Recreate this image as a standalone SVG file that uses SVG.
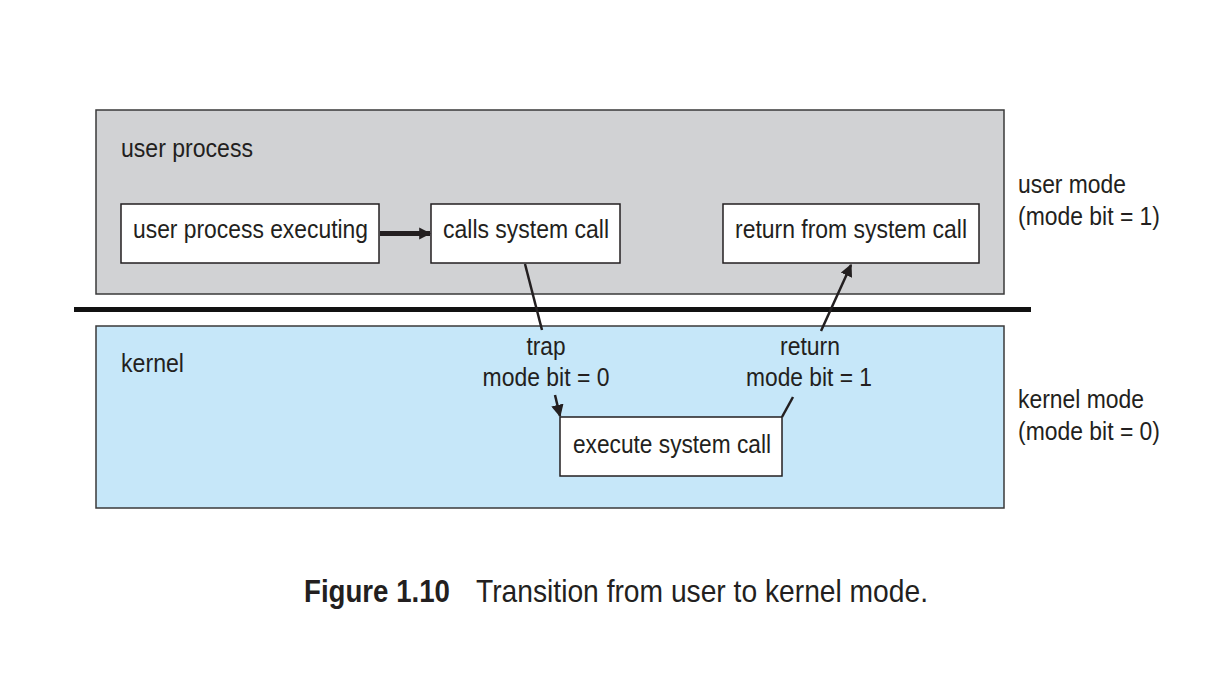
<svg xmlns="http://www.w3.org/2000/svg" width="1213" height="688" viewBox="0 0 1213 688">
<defs>
<style>
text{font-family:"Liberation Sans",Arial,sans-serif;fill:#231f20;font-size:25px}
.box{fill:#ffffff;stroke:#231f20;stroke-width:1.5}
.line{stroke:#231f20;stroke-width:2.5;fill:none}
.cap{font-size:32px}
</style>
<marker id="ah" viewBox="0 0 10 10" refX="9" refY="5" markerWidth="5" markerHeight="5" orient="auto" markerUnits="strokeWidth"><path d="M0,0 L10,5 L0,10 z" fill="#231f20"/></marker>
<marker id="ahBig" viewBox="0 0 10 10" refX="9" refY="5" markerWidth="2.4" markerHeight="2.6" orient="auto" markerUnits="strokeWidth"><path d="M0,0 L10,5 L0,10 z" fill="#231f20"/></marker>
</defs>
<rect width="1213" height="688" fill="#ffffff"/>
<g id="user-region">
<rect x="96" y="110" width="908" height="184" fill="#d1d2d4" stroke="#3a3a3a" stroke-width="1.5"/>
<text x="121" y="157" textLength="132" lengthAdjust="spacingAndGlyphs">user process</text>
</g>
<g id="kernel-region">
<rect x="96" y="326" width="908" height="182" fill="#c6e7f9" stroke="#3a3a3a" stroke-width="1.5"/>
<text x="121" y="372" textLength="63" lengthAdjust="spacingAndGlyphs">kernel</text>
</g>
<g id="divider"><line x1="74" y1="309.5" x2="1031" y2="309.5" stroke="#111" stroke-width="5"/></g>
<g id="n-exec">
<rect class="box" x="121" y="204" width="258" height="59"/>
<text x="133" y="238" textLength="235" lengthAdjust="spacingAndGlyphs">user process executing</text>
</g>
<g id="n-calls">
<rect class="box" x="431" y="204" width="189" height="59"/>
<text x="443" y="238" textLength="166" lengthAdjust="spacingAndGlyphs">calls system call</text>
</g>
<g id="n-return">
<rect class="box" x="723" y="204" width="256" height="59"/>
<text x="735" y="238" textLength="232" lengthAdjust="spacingAndGlyphs">return from system call</text>
</g>
<g id="n-execute">
<rect class="box" x="560" y="417" width="222" height="59"/>
<text x="573" y="453" textLength="198" lengthAdjust="spacingAndGlyphs">execute system call</text>
</g>
<g id="mode-labels">
<text x="1018" y="193" textLength="108" lengthAdjust="spacingAndGlyphs">user mode</text>
<text x="1018" y="225" textLength="142" lengthAdjust="spacingAndGlyphs">(mode bit = 1)</text>
<text x="1018" y="408" textLength="126" lengthAdjust="spacingAndGlyphs">kernel mode</text>
<text x="1018" y="440" textLength="142" lengthAdjust="spacingAndGlyphs">(mode bit = 0)</text>
</g>
<g id="connectors">
<line x1="380" y1="233.5" x2="430" y2="233.5" stroke="#231f20" stroke-width="5" marker-end="url(#ahBig)"/>
<line class="line" x1="525" y1="264" x2="542" y2="330"/>
<line class="line" x1="555" y1="395" x2="560" y2="416" marker-end="url(#ah)"/>
<line class="line" x1="782" y1="417" x2="793" y2="397"/>
<line class="line" x1="821" y1="331" x2="851" y2="265" marker-end="url(#ah)"/>
<text x="546" y="355" text-anchor="middle" textLength="39" lengthAdjust="spacingAndGlyphs">trap</text>
<text x="546" y="386" text-anchor="middle" textLength="127" lengthAdjust="spacingAndGlyphs">mode bit = 0</text>
<text x="810" y="355" text-anchor="middle" textLength="60" lengthAdjust="spacingAndGlyphs">return</text>
<text x="809" y="386" text-anchor="middle" textLength="126" lengthAdjust="spacingAndGlyphs">mode bit = 1</text>
</g>
<g id="caption">
<text class="cap" x="304" y="602" font-weight="bold" textLength="146" lengthAdjust="spacingAndGlyphs">Figure 1.10</text>
<text class="cap" x="476" y="602" textLength="452" lengthAdjust="spacingAndGlyphs">Transition from user to kernel mode.</text>
</g>
</svg>
